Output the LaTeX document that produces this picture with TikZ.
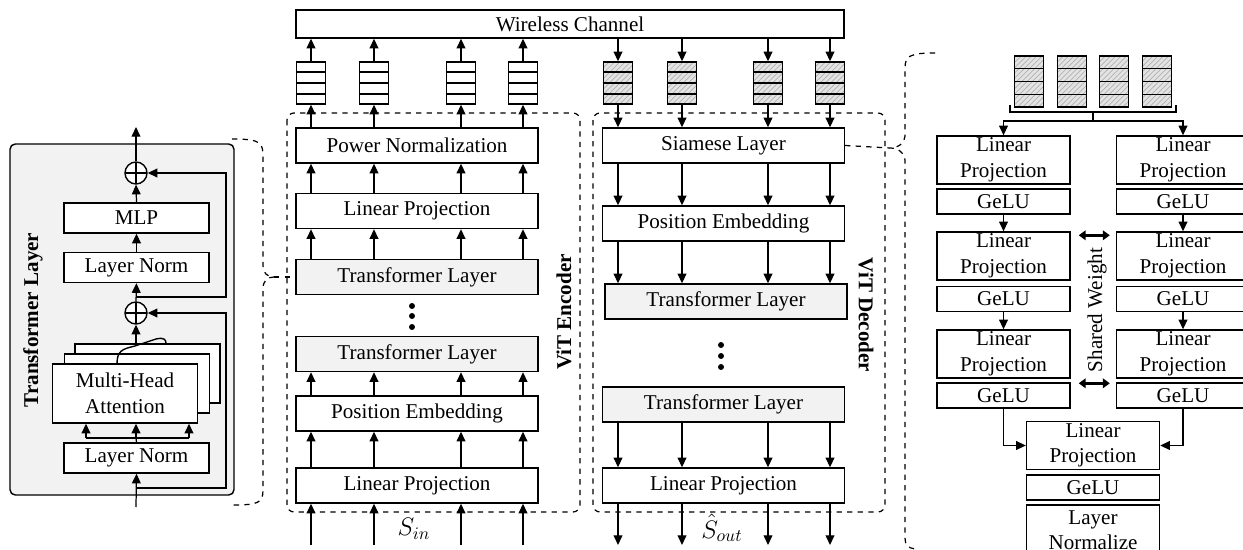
\documentclass[tikz,border=0pt]{standalone}
\usepackage{fontspec}
\setmainfont{Liberation Serif}
\usetikzlibrary{arrows.meta,calc,patterns}

\newcommand{\fsz}{\fontsize{12}{14.5}\selectfont}

\tikzset{
  arr/.style={-{Triangle[length=5.5pt,width=5pt]}, line width=0.7pt},
  sharew/.style={{Triangle[length=4pt,width=5.5pt]}-{Triangle[length=4pt,width=5.5pt]}, line width=1.6pt},
  blk/.style={draw, line width=0.8pt, inner sep=1pt, font=\fsz, align=center},
  encblk/.style={blk, minimum width=4.84cm, minimum height=0.7cm},
  tfblk/.style={encblk, fill=gray!10},
  tlblk/.style={blk, fill=white, minimum width=2.9cm, minimum height=0.6cm},
  rbox/.style={blk, minimum width=2.66cm},
  buf/.style={draw, line width=0.8pt, minimum width=0.58cm, minimum height=0.84cm, inner sep=0},
  hbuf/.style={buf, preaction={fill=gray!22}, pattern=north east lines, pattern color=gray!60},
  sumop/.style={draw, circle, line width=0.8pt, minimum size=0.44cm, inner sep=0, fill=white,
    path picture={\draw[line width=0.8pt] (path picture bounding box.north) -- (path picture bounding box.south)
      (path picture bounding box.west) -- (path picture bounding box.east);}},
  lbl/.style={font=\fsz\bfseries},
  brc/.style={dashed, line width=0.7pt},
}

\begin{document}
\begin{tikzpicture}[x=0.02cm, y=-0.02cm]
\useasboundingbox (0,0) rectangle (1243,550);

% transformer layer detail
\draw[line width=0.8pt, fill=gray!10, rounded corners=3pt] (10,144) rectangle (234,495);
\node[sumop] (add2) at (136,173) {};
\node[tlblk] (mlp) at (136.5,218) {MLP};
\node[tlblk] (ln2) at (136.5,267.5) {Layer Norm};
\node[sumop] (add1) at (136,313) {};
\node[tlblk, minimum height=1.18cm] (mha3) at (147.5,373.5) {};
\node[tlblk, minimum height=1.18cm] (mha2) at (137,383.5) {};
\node[tlblk, minimum height=1.18cm] (mha) at (125,393.5) {Multi-Head\\Attention};
\node[tlblk] (ln1) at (136.5,458) {Layer Norm};
\draw[line width=0.8pt] (117,364) .. controls (117,351) and (122,349) .. (135,346) -- (156,339)
  .. controls (165,337) and (166,340) .. (166,344);
\node[lbl, rotate=90] (tlab) at (33,320) {Transformer Layer};

\coordinate (tin) at (136,507);
\coordinate (tout) at (136,127);
\coordinate (rx) at (226,0);
\coordinate (r1) at (136,488);
\coordinate (r2) at (136,297);
\coordinate (sp) at (136,438);
\draw[arr] (tin) -- (ln1.south);
\draw[arr] (r1) -- (r1 -| rx) -- (rx |- add1) -- (add1.east);
\draw[line width=0.7pt] (ln1.north) -- (sp);
\draw[line width=0.7pt] (86,438) -- (189,438);
\foreach \x in {86,136,189} {
  \coordinate (t) at (\x,438);
  \draw[arr] (t) -- (t |- mha.south);
}
\draw[arr] (mha3.north -| add1) -- (add1.south);
\draw[arr] (add1.north) -- (ln2.south);
\draw[arr] (r2) -- (r2 -| rx) -- (rx |- add2) -- (add2.east);
\draw[arr] (ln2.north) -- (mlp.south);
\draw[arr] (mlp.north) -- (add2.south);
\draw[arr] (add2.north) -- (tout);

% channel
\node[blk, minimum width=10.96cm, minimum height=0.56cm] (wc) at (570,24) {Wireless Channel};

% encoder
\node[encblk] (pn) at (417,145.5) {Power Normalization};
\node[encblk] (elp2) at (417,211) {Linear Projection};
\node[tfblk] (etl1) at (417,277) {Transformer Layer};
\node[tfblk] (etl2) at (417,354) {Transformer Layer};
\node[encblk] (epe) at (417,413.5) {Position Embedding};
\node[encblk] (elp1) at (417,485.5) {Linear Projection};
\foreach \n/\x in {1/311,2/374,3/461,4/523} {
  \node[buf] (eb\n) at (\x,83) {};
  \foreach \k in {1,2,3}
    \draw[line width=0.9pt] ($(eb\n.north west)!\k/4!(eb\n.south west)$) -- ($(eb\n.north east)!\k/4!(eb\n.south east)$);
  \coordinate (ein\n) at (\x,545);
  \draw[arr] (eb\n.north) -- (eb\n.north |- wc.south);
  \draw[arr] (eb\n.south |- pn.north) -- (eb\n.south);
  \draw[arr] (eb\n |- elp2.north) -- (eb\n |- pn.south);
  \draw[arr] (eb\n |- etl1.north) -- (eb\n |- elp2.south);
  \draw[arr] (eb\n |- epe.north) -- (eb\n |- etl2.south);
  \draw[arr] (eb\n |- elp1.north) -- (eb\n |- epe.south);
  \draw[arr] (ein\n) -- (ein\n |- elp1.south);
}
\foreach \y in {306,316,327} \fill (412,\y) circle (1.7pt);
\draw[dashed, line width=0.7pt, rounded corners=4pt] (287,113) rectangle (580,512);
\node[lbl, rotate=90] (elab) at (564,312) {ViT Encoder};
\node[font=\fontsize{14}{16}\selectfont] (sin) at (414,529) {$S_{in}$};

% decoder
\node[encblk] (sl) at (723.5,145.5) {Siamese Layer};
\node[encblk] (dpe) at (723.5,223.5) {Position Embedding};
\node[tfblk] (dtl1) at (726,301.5) {Transformer Layer};
\node[tfblk] (dtl2) at (723.5,404.5) {Transformer Layer};
\node[encblk] (dlp) at (723.5,485.5) {Linear Projection};
\foreach \n/\x in {1/618,2/682,3/768,4/830} {
  \node[hbuf] (db\n) at (\x,83) {};
  \foreach \k in {1,2,3}
    \draw[line width=0.9pt] ($(db\n.north west)!\k/4!(db\n.south west)$) -- ($(db\n.north east)!\k/4!(db\n.south east)$);
  \coordinate (dout\n) at (\x,545);
  \draw[arr] (db\n.north |- wc.south) -- (db\n.north);
  \draw[arr] (db\n.south) -- (db\n.south |- sl.north);
  \draw[arr] (db\n |- sl.south) -- (db\n |- dpe.north);
  \draw[arr] (db\n |- dpe.south) -- (db\n |- dtl1.north);
  \draw[arr] (db\n |- dtl2.south) -- (db\n |- dlp.north);
  \draw[arr] (db\n |- dlp.south) -- (dout\n);
}
\foreach \y in {345,356,367} \fill (721,\y) circle (1.7pt);
\draw[dashed, line width=0.7pt, rounded corners=4pt] (593,113) rectangle (885,512);
\node[lbl, rotate=-90] (dlab) at (866,315) {ViT Decoder};
\node[font=\fontsize{14}{16}\selectfont] (sout) at (722,528) {$\hat{S}_{out}$};

% braces
\coordinate (lt) at (274,277);
\draw[brc] (232,139) .. controls (262,139) and (263,143) .. (263,158) -- (263,265)
  .. controls (263,273) and (267,277) .. (lt) .. controls (267,277) and (263,281) .. (263,289)
  -- (263,490) .. controls (263,503) and (258,505) .. (232,505);
\draw[brc] (lt) -- (etl1.west);
\coordinate (rt) at (890,148);
\draw[brc] (sl.east) -- (rt);
\draw[brc] (935,53) .. controls (910,53) and (905,56) .. (905,68) -- (905,136)
  .. controls (905,143) and (898,148) .. (rt) .. controls (898,148) and (905,153) .. (905,160)
  -- (905,538) .. controls (905,545) and (908,548) .. (915,549);

% siamese layer detail
\foreach \n/\x in {1/1029,2/1072,3/1114,4/1157} {
  \node[hbuf, minimum height=1.02cm] (tb\n) at (\x,81.5) {};
  \foreach \k in {1,2,3}
    \draw[line width=0.9pt] ($(tb\n.north west)!\k/4!(tb\n.south west)$) -- ($(tb\n.north east)!\k/4!(tb\n.south east)$);
}
\foreach \s/\x in {l/1003.5,r/1183} {
  \node[rbox, minimum height=0.96cm] (\s lp1) at (\x,160) {Linear\\Projection};
  \node[rbox, minimum height=0.5cm] (\s g1) at (\x,201.5) {GeLU};
  \node[rbox, minimum height=0.96cm] (\s lp2) at (\x,256) {Linear\\Projection};
  \node[rbox, minimum height=0.5cm] (\s g2) at (\x,299) {GeLU};
  \node[rbox, minimum height=0.96cm] (\s lp3) at (\x,354) {Linear\\Projection};
  \node[rbox, minimum height=0.5cm] (\s g3) at (\x,395.5) {GeLU};
  \draw[arr] (\s g1.south) -- (\s lp2.north);
  \draw[arr] (\s g2.south) -- (\s lp3.north);
}
\node[rbox, minimum height=0.94cm] (mlp4) at (1093,445.5) {Linear\\Projection};
\node[rbox, minimum height=0.5cm] (mg4) at (1093,487.5) {GeLU};
\node[rbox, minimum height=1cm] (lnz) at (1093,530) {Layer\\Normalize};
\draw[line width=0.8pt] (1010,105) -- (1010,112) -- (1176,112) -- (1176,105);
\coordinate (stem) at (1093,121);
\draw[line width=0.8pt] (1093,112) -- (stem);
\draw[arr] (stem) -| (llp1.north);
\draw[arr] (stem) -| (rlp1.north);
\draw[sharew, shorten <=0.16cm, shorten >=0.12cm] ([yshift=-0.08cm]llp2.north east) -- ([yshift=-0.08cm]rlp2.north west);
\draw[sharew, shorten <=0.16cm, shorten >=0.12cm] ([yshift=-0.02cm]lg3.north east) -- ([yshift=-0.02cm]rg3.north west);
\node[font=\fsz, rotate=90] (swt) at (1097,310) {Shared Weight};
\draw[arr] (lg3.south) |- (mlp4.west);
\draw[arr] (rg3.south) |- (mlp4.east);
\end{tikzpicture}
\end{document}
